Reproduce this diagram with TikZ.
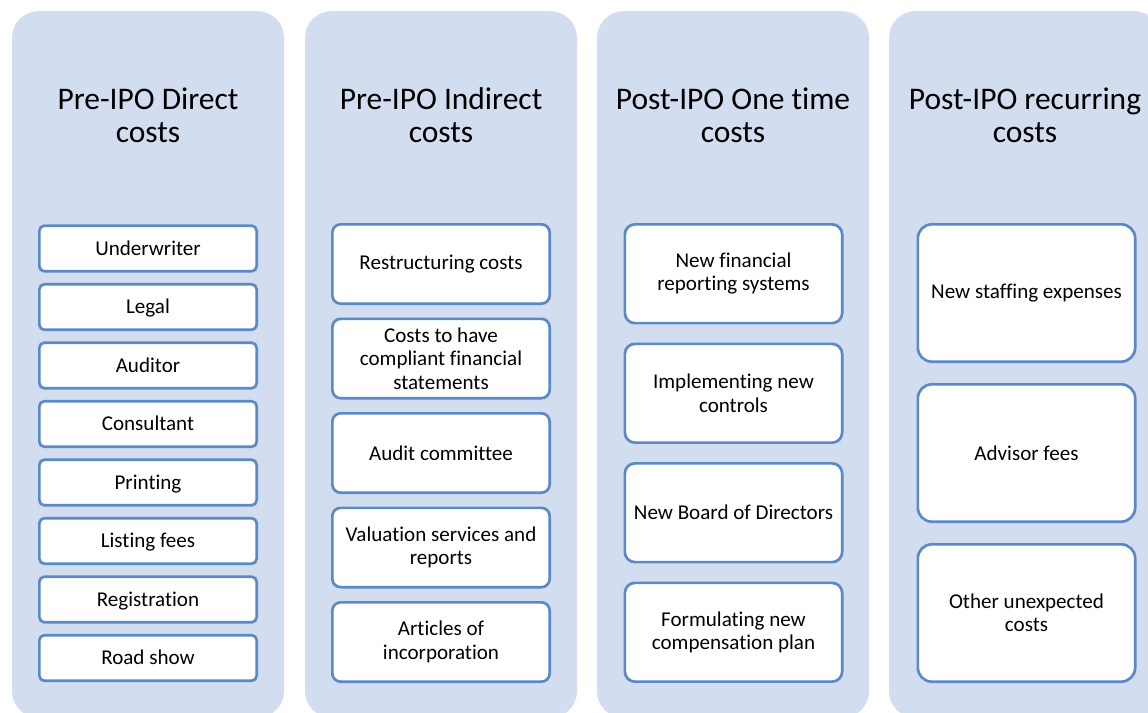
\documentclass[tikz,border=0pt]{standalone}
\usepackage{fontspec}
\setmainfont{Carlito}[Ligatures={NoCommon}]
\usepackage{xcolor}
\usetikzlibrary{positioning}
\definecolor{PanelFill}{HTML}{D2DDEF}
\definecolor{BoxLine}{HTML}{5A8AC6}
\tikzset{
  panel/.style={fill=PanelFill,rounded corners=20pt,minimum width=204pt,minimum height=530pt,inner sep=0pt},
  heading/.style={align=center,inner sep=0pt,font=\fontsize{23.6}{24.75}\selectfont},
  costbox/.style={draw=BoxLine,line width=2pt,fill=white,align=center,inner sep=0pt,
    minimum width=163pt,font=\fontsize{15.8}{17.6}\selectfont},
  boxA/.style={costbox,align=none,minimum height=34.2pt,rounded corners=3.8pt,text height=9.75pt,text depth=0pt},
  boxB/.style={costbox,minimum height=59.5pt,rounded corners=6.2pt},
  boxC/.style={costbox,minimum height=74.1pt,rounded corners=7.6pt},
  boxD/.style={costbox,minimum height=103pt,rounded corners=10.5pt}
}

\begin{document}
\begin{tikzpicture}[x=0.75pt,y=-0.75pt]
\fill[white] (0,0) rectangle (1148,713);
\path[use as bounding box,clip] (0,0) rectangle (1148,713);
% panels and headings
\foreach \n/\x/\s in {pDir/148/{Pre-IPO Direct\\costs},pInd/441/{Pre-IPO Indirect\\costs},
    pOne/733/{Post-IPO One time\\costs},pRec/1025/{Post-IPO recurring\\costs}} {
  \node[panel] (\n) at (\x,364.5) {};
  \node[heading] (h\n) at (\x,115.5) {\s};
}
% cost items
\foreach \t [count=\i] in {Underwriter,Legal,Auditor,Consultant,Printing,Listing fees,Registration,Road show}
  \node[boxA] (dir\i) at (148,{248.5+58.5*(\i-1)}) {\t};
\foreach \t [count=\i] in {Restructuring costs,Costs to have\\compliant financial\\statements,Audit committee,
    Valuation services and\\reports,Articles of\\incorporation}
  \node[boxB] (ind\i) at (441,{264+94.5*(\i-1)}) {\t};
\foreach \t [count=\i] in {New financial\\reporting systems,Implementing new\\controls,New Board of Directors,
    Formulating new\\compensation plan}
  \node[boxC] (one\i) at (733.5,{273.75+119.5*(\i-1)}) {\t};
\foreach \t [count=\i] in {New staffing expenses,Advisor fees,Other unexpected\\costs}
  \node[boxD] (rec\i) at (1026.5,{293+160*(\i-1)}) {\t};
\end{tikzpicture}
\end{document}
